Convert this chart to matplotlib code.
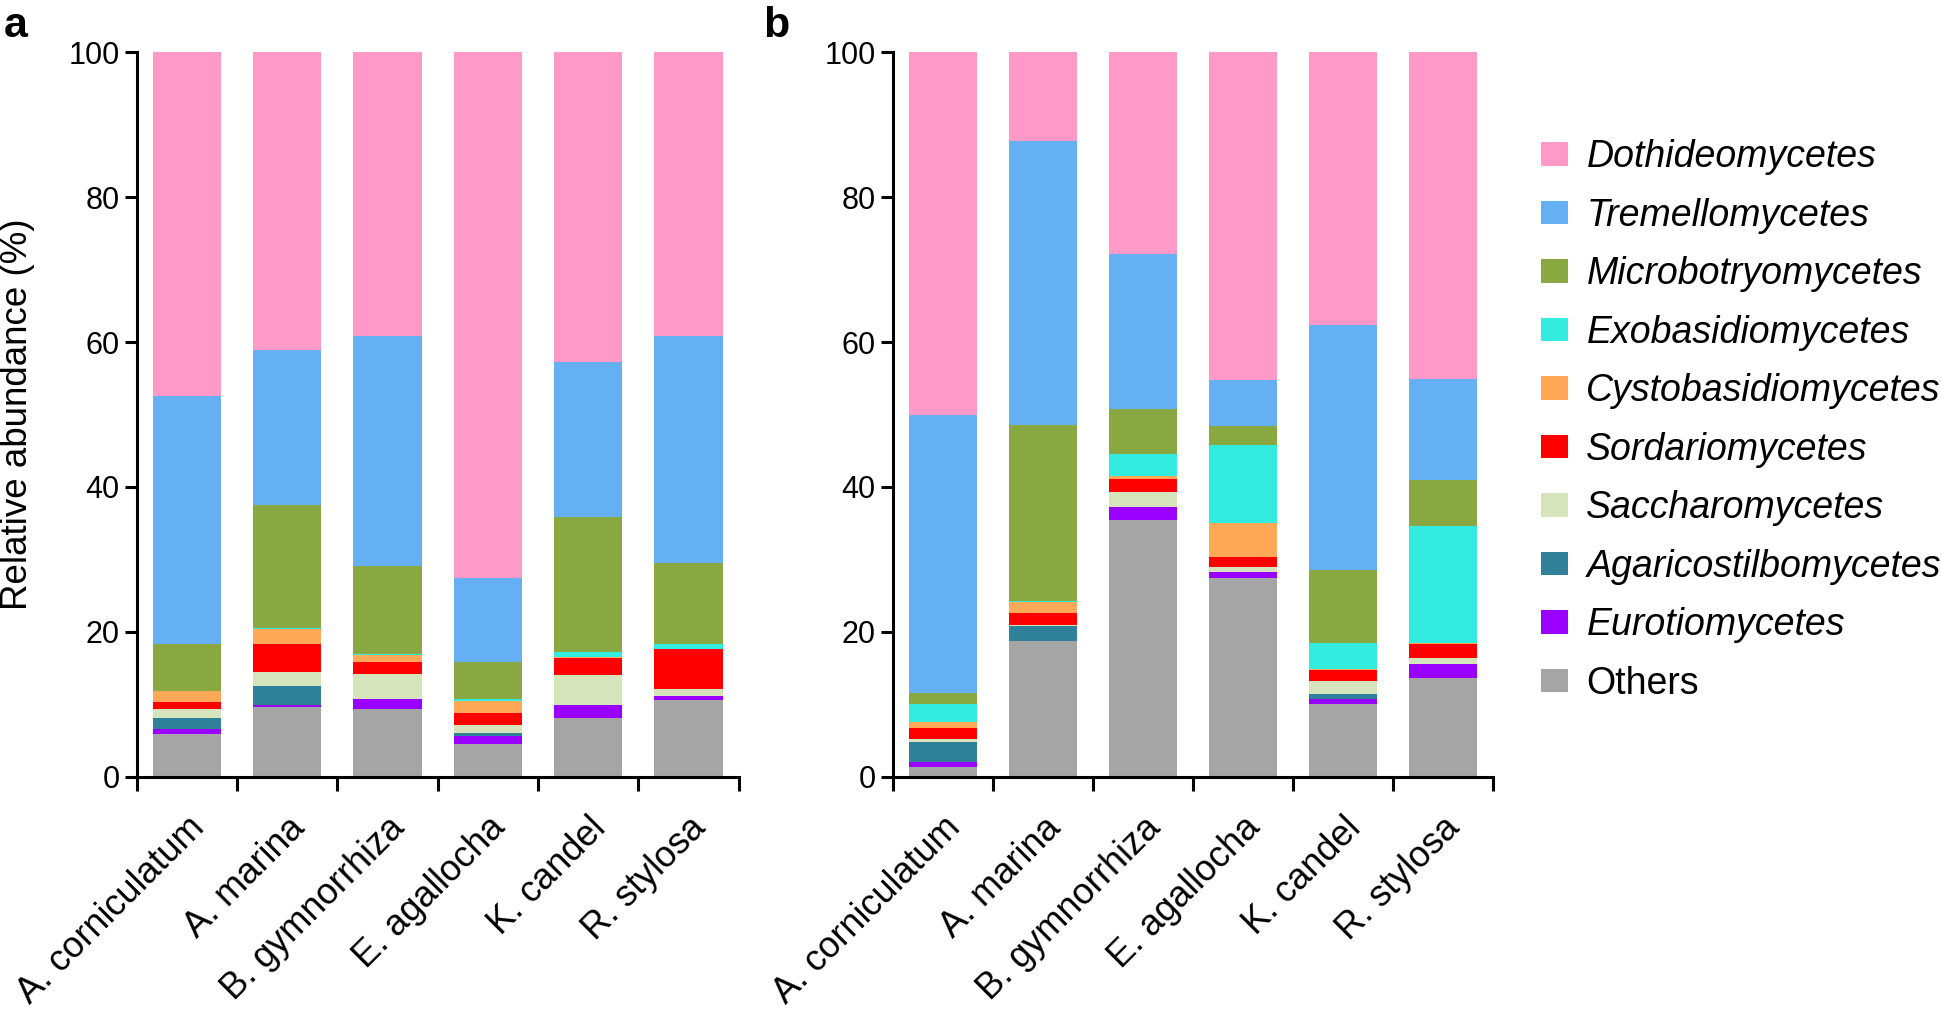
import matplotlib
matplotlib.use("Agg")
import matplotlib.pyplot as plt
from matplotlib.patches import Patch

plt.rcParams['font.family'] = ['Liberation Sans', 'DejaVu Sans']

# -----------------------------
# DATA (relative abundance, %)
# -----------------------------
samples = ["A. corniculatum", "A. marina", "B. gymnorrhiza",
           "E. agallocha", "K. candel", "R. stylosa"]

classes = ["Dothideomycetes", "Tremellomycetes", "Microbotryomycetes",
           "Exobasidiomycetes", "Cystobasidiomycetes", "Sordariomycetes",
           "Saccharomycetes", "Agaricostilbomycetes", "Eurotiomycetes", "Others"]

class_colors = ["#ff99c8", "#64b0f2", "#8aa842", "#33ece0", "#ffa858",
                "#ff0000", "#d6e4bc", "#2e8199", "#9900ff", "#a5a5a5"]

# panel a
a_dothideo = [47.4, 41.1, 39.2, 72.5, 42.7, 39.2]
a_tremello = [34.2, 21.4, 31.7, 11.7, 21.5, 31.3]
a_microbot = [6.6, 16.9, 12.1, 5.0, 18.5, 11.1]
a_exobasid = [0.0, 0.2, 0.2, 0.3, 0.8, 0.7]
a_cystobas = [1.4, 2.0, 0.9, 1.7, 0.1, 0.1]
a_sordario = [1.0, 3.9, 1.7, 1.6, 2.3, 5.4]
a_saccharo = [1.3, 1.9, 3.5, 1.1, 4.2, 1.0]
a_agaricos = [1.5, 2.7, 0.0, 0.4, 0.0, 0.0]
a_eurotiom = [0.7, 0.3, 1.3, 1.2, 1.7, 0.6]
a_others = [5.9, 9.6, 9.4, 4.5, 8.2, 10.6]

# panel b
b_dothideo = [50.0, 12.3, 27.9, 45.3, 37.6, 45.1]
b_tremello = [38.4, 39.1, 21.3, 6.3, 33.9, 13.9]
b_microbot = [1.5, 24.3, 6.3, 2.6, 10.0, 6.4]
b_exobasid = [2.5, 0.2, 3.0, 10.7, 3.6, 16.1]
b_cystobas = [0.8, 1.5, 0.4, 4.8, 0.1, 0.2]
b_sordario = [1.5, 1.6, 1.8, 1.4, 1.6, 1.9]
b_saccharo = [0.5, 0.2, 2.0, 0.6, 1.7, 0.8]
b_agaricos = [2.8, 2.0, 0.0, 0.0, 0.7, 0.0]
b_eurotiom = [0.6, 0.0, 1.8, 0.9, 0.7, 1.9]
b_others = [1.4, 18.8, 35.5, 27.4, 10.1, 13.7]

panel_a_series = [a_dothideo, a_tremello, a_microbot, a_exobasid, a_cystobas,
                  a_sordario, a_saccharo, a_agaricos, a_eurotiom, a_others]
panel_b_series = [b_dothideo, b_tremello, b_microbot, b_exobasid, b_cystobas,
                  b_sordario, b_saccharo, b_agaricos, b_eurotiom, b_others]


# -----------------------------
# FIGURE
# -----------------------------
fig = plt.figure(figsize=(19.41, 10.11), dpi=100)
ax_a = fig.add_axes([0.0705, 0.2315, 0.310, 0.717])
ax_b = fig.add_axes([0.460, 0.2315, 0.309, 0.717])

x_positions = list(range(len(samples)))


def draw_stacked(ax, series_list):
    bottoms = [0.0] * len(samples)
    # stack from bottom (Others) to top (Dothideomycetes)
    for values, color in zip(reversed(series_list), reversed(class_colors)):
        ax.bar(x_positions, values, width=0.68, bottom=bottoms,
               color=color, edgecolor="none")
        bottoms = [b + v for b, v in zip(bottoms, values)]

    ax.set_xlim(-0.5, len(samples) - 0.5)
    ax.set_ylim(0, 100)
    ax.set_yticks([0, 20, 40, 60, 80, 100])
    ax.tick_params(axis="y", labelsize=22, width=2.2, length=9, direction="out")
    ax.set_xticks(x_positions)
    ax.set_xticklabels(samples, rotation=45, ha="right", rotation_mode="anchor",
                       fontsize=26)
    ax.tick_params(axis="x", length=0, pad=24)
    ax.set_xticks([i - 0.5 for i in range(len(samples) + 1)], minor=True)
    ax.tick_params(axis="x", which="minor", length=10, width=2.2, direction="out")
    for side in ["top", "right"]:
        ax.spines[side].set_visible(False)
    for side in ["left", "bottom"]:
        ax.spines[side].set_linewidth(2.2)


draw_stacked(ax_a, panel_a_series)
draw_stacked(ax_b, panel_b_series)

ax_a.set_ylabel("Relative abundance (%)", fontsize=26.5, labelpad=24)

fig.text(0.002, 0.994, "a", fontsize=31, fontweight="bold", va="top")
fig.text(0.393, 0.994, "b", fontsize=31, fontweight="bold", va="top")

legend_handles = [Patch(facecolor=c, edgecolor="none") for c in class_colors]
leg = fig.legend(legend_handles, classes, loc="upper left",
                 bbox_to_anchor=(0.786, 0.877), frameon=False,
                 fontsize=27, handlelength=0.72, handleheight=0.58,
                 labelspacing=0.6, handletextpad=0.5, borderaxespad=0)
for text in leg.get_texts():
    if text.get_text() != "Others":
        text.set_style("italic")

fig.savefig("out.png", dpi=100)
